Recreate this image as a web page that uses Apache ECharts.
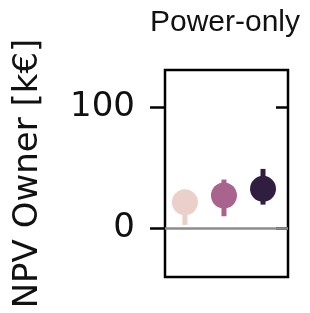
<!DOCTYPE html>
<html>
<head>
<meta charset="utf-8">
<script src="https://cdn.jsdelivr.net/npm/echarts@6/dist/echarts.min.js"></script>
<style>
  html, body { margin: 0; padding: 0; background: #fff; }
  #main { width: 310px; height: 313px; }
</style>
</head>
<body>
<div id="main"></div>
<script>
// one group per colour, points dodged along x
var groupPos = [0, 1, 2]
var npvMean = [21.7, 27.3, 32.8]
var npvLow = [3, 10.2, 19.8]
var npvHigh = [30, 40.5, 49.3]
var groupColors = ['#ead0c8', '#a8648c', '#2f1e40']
var yTicks = [0, 100]

var myChart = echarts.init(document.getElementById('main'))

var points = groupPos.map(function (x, i) {
  return { value: [x, npvMean[i]], itemStyle: { color: groupColors[i], opacity: 1 } }
})
var bars = groupPos.map(function (x, i) {
  return { value: [x, npvLow[i], npvHigh[i]], itemStyle: { color: groupColors[i] } }
})

var option = {
  animation: false,
  graphic: [{
    type: 'text',
    x: 225,
    y: 23,
    style: {
      text: 'Power-only',
      fontFamily: 'Liberation Sans',
      fontSize: 30,
      fill: '#111',
      textAlign: 'center',
      textVerticalAlign: 'middle'
    }
  }],
  grid: {
    left: 165,
    right: 22,
    top: 70,
    bottom: 36,
    show: true,
    borderColor: '#000',
    borderWidth: 2.5,
    backgroundColor: 'transparent'
  },
  xAxis: {
    type: 'value',
    min: -0.51,
    max: 2.64,
    show: false
  },
  yAxis: [
    {
      type: 'value',
      min: -40,
      max: 131,
      position: 'left',
      name: 'NPV Owner [k€]',
      nameLocation: 'middle',
      nameRotate: 90,
      nameGap: 120,
      nameTextStyle: { fontFamily: 'DejaVu Sans', fontSize: 34, color: '#111' },
      axisLine: { show: false, onZero: false },
      splitLine: { show: false },
      axisTick: { show: true, length: 15, customValues: yTicks, lineStyle: { color: '#000', width: 2.5 } },
      axisLabel: { customValues: yTicks, margin: 30, fontFamily: 'DejaVu Sans', fontSize: 34, color: '#111' }
    },
    {
      type: 'value',
      min: -40,
      max: 131,
      position: 'right',
      axisLine: { show: false, onZero: false },
      splitLine: { show: false },
      axisTick: { show: true, inside: true, length: 12, customValues: yTicks, lineStyle: { color: '#000', width: 2.5 } },
      axisLabel: { show: false }
    }
  ],
  series: [
    {
      type: 'custom',
      z: 2,
      renderItem: function (params, api) {
        var x = api.value(0)
        var lo = api.coord([x, api.value(1)])
        var hi = api.coord([x, api.value(2)])
        return {
          type: 'rect',
          shape: { x: lo[0] - 2.5, y: hi[1], width: 5, height: lo[1] - hi[1] },
          style: { fill: api.visual('color') }
        }
      },
      encode: { x: 0, y: [1, 2] },
      data: bars,
      markLine: {
        silent: true,
        symbol: 'none',
        label: { show: false },
        lineStyle: { color: '#8c8c8c', width: 2.5, type: 'solid' },
        data: [{ yAxis: 0 }]
      }
    },
    {
      type: 'scatter',
      z: 3,
      symbolSize: 26,
      data: points
    }
  ]
}
myChart.setOption(option)
</script>
</body>
</html>
